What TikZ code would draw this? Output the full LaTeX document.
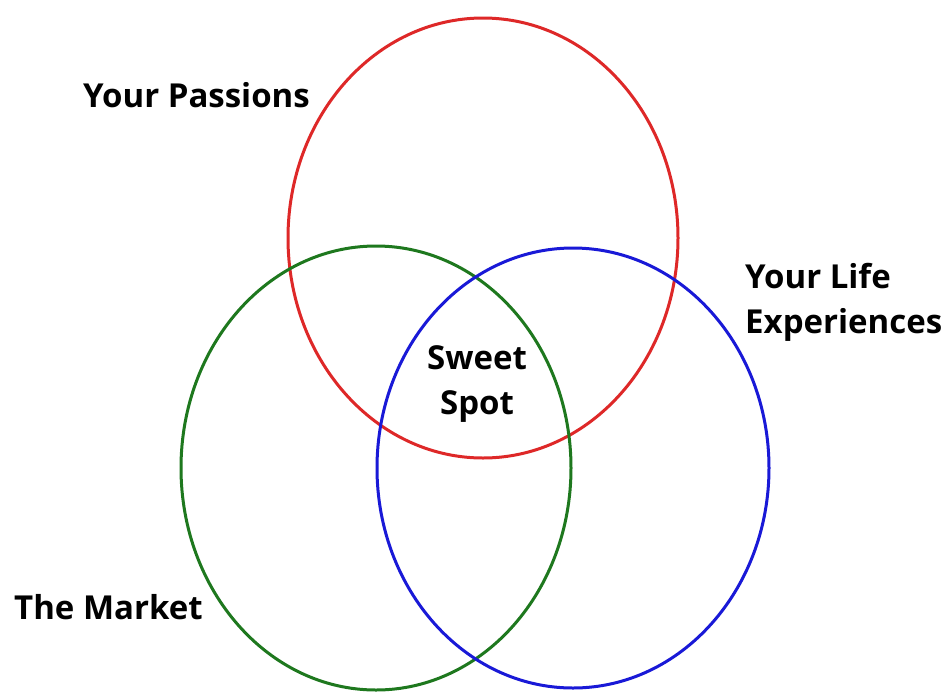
\documentclass[tikz,border=0pt]{standalone}
\usepackage{fontspec}
\newfontfamily\labfont{Open Sans}
\definecolor{vred}{RGB}{222,40,40}
\definecolor{vgreen}{RGB}{30,120,30}
\definecolor{vblue}{RGB}{25,25,215}
\begin{document}
\begin{tikzpicture}[x=1pt,y=-1pt,
  ring/.style={line width=3pt},
  lab/.style={inner sep=0pt,font=\labfont\bfseries\fontsize{33}{45}\selectfont,text=black}]
\useasboundingbox[fill=white] (0,0) rectangle (950,694);
\draw[ring,vred] (483,238) ellipse [x radius=195, y radius=220];
\draw[ring,vgreen] (376,468) ellipse [x radius=195, y radius=222];
\draw[ring,vblue] (573,468) ellipse [x radius=196, y radius=220];
\node[lab,anchor=west] (pas) at (83,95) {Your Passions};
\node[lab,anchor=north west,align=left] (life) at (745,263) {Your Life\\Experiences};
\node[lab,align=center] (sweet) at (477,384) {Sweet\\Spot};
\node[lab,anchor=west] (mkt) at (14,607) {The Market};
\end{tikzpicture}
\end{document}
